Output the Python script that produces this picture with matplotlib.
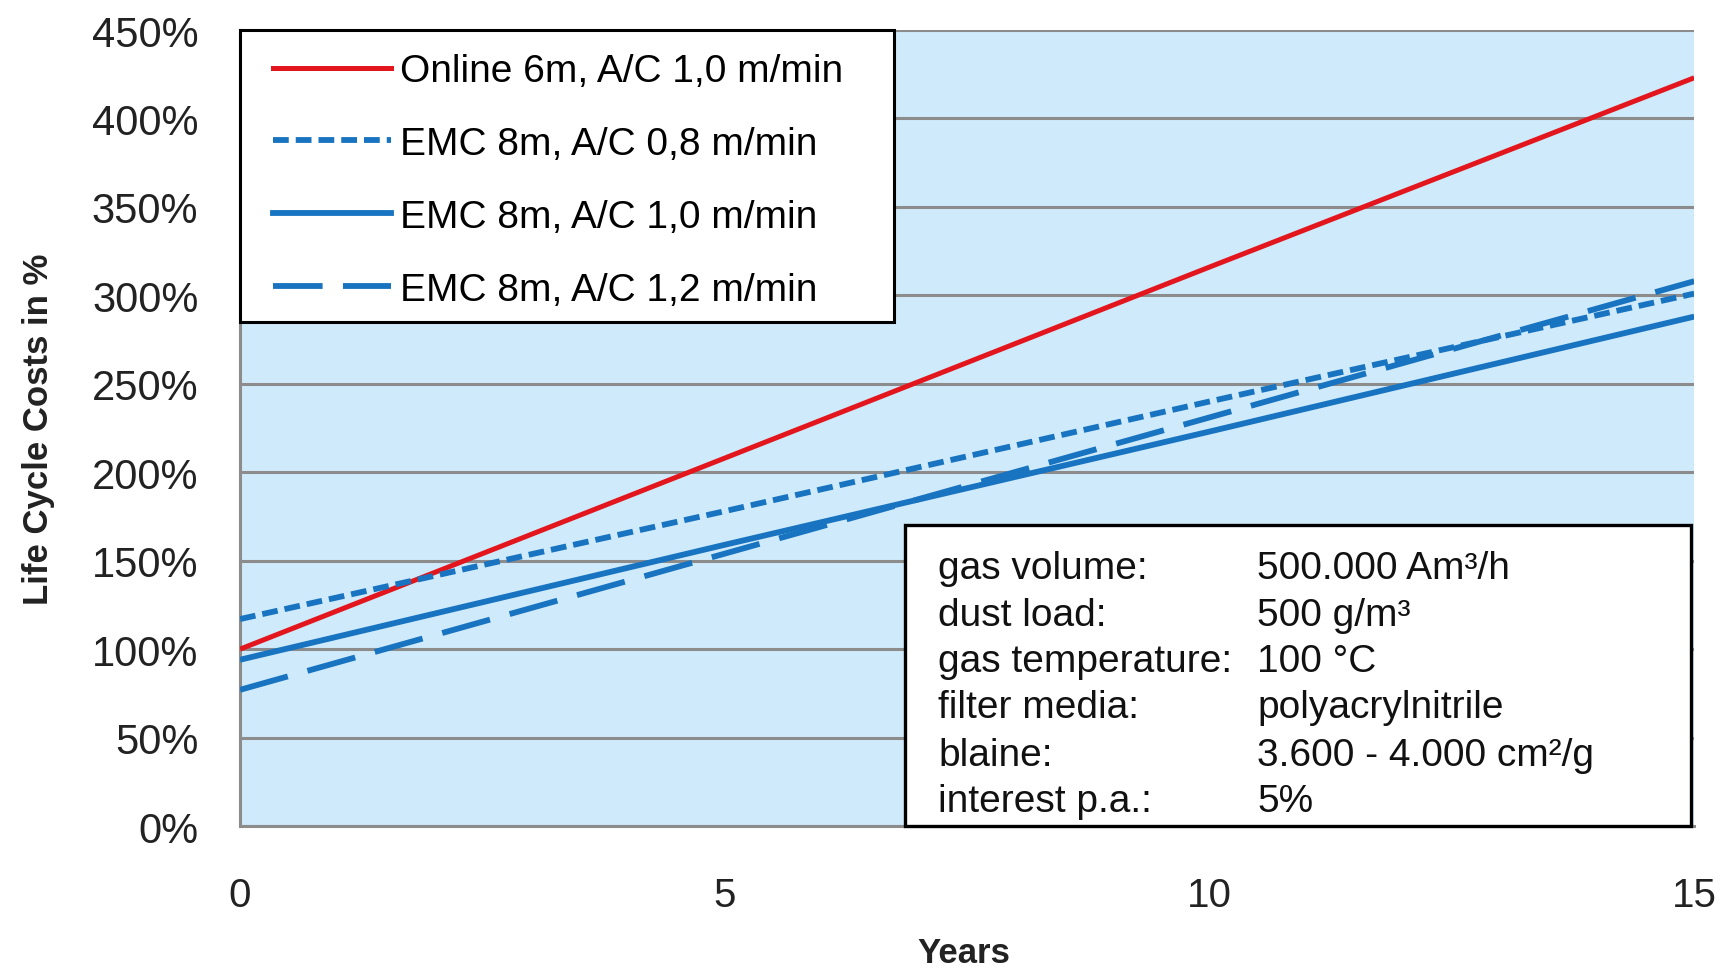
import numpy as np
import matplotlib
matplotlib.use("Agg")
import matplotlib.pyplot as plt
from matplotlib.patches import Rectangle
from matplotlib.lines import Line2D

plt.rcParams['font.family'] = ['Liberation Sans', 'DejaVu Sans']

## Life cycle cost development (% of reference investment)
years = [0, 5, 10, 15]
online_6m_a10 = [100, 208, 316, 423]
emc_8m_a08 = [117, 178, 240, 301]
emc_8m_a10 = [94, 159, 223, 288]
emc_8m_a12 = [77, 154, 231, 308]

labels = ["Online 6m, A/C 1,0 m/min",
          "EMC 8m, A/C 0,8 m/min",
          "EMC 8m, A/C 1,0 m/min",
          "EMC 8m, A/C 1,2 m/min"]

y_ticks = [0, 50, 100, 150, 200, 250, 300, 350, 400, 450]
x_ticks = [0, 5, 10, 15]

info_keys = ["gas volume:", "dust load:", "gas temperature:",
             "filter media:", "blaine:", "interest p.a.:"]
info_vals = ["500.000 Am³/h", "500 g/m³", "100 °C",
             "polyacrylnitrile", "3.600 - 4.000 cm²/g", "5%"]

red = "#e3161e"
blue = "#1874c0"
lw_red = 3.6
lw_blue = 4.2
short_dash = (2.7, 1.2)
long_dash = (8.5, 3.5)

fig = plt.figure(figsize=(17.27, 9.70), dpi=100)
ax = fig.add_axes([0.139, 0.1474, 0.842, 0.8206])
ax.set_facecolor("#cfeafa")

## Lines
ax.plot(years, online_6m_a10, color=red, lw=lw_red, solid_capstyle="butt", zorder=3)
ax.plot(years, emc_8m_a08, color=blue, lw=lw_blue, dashes=short_dash, zorder=3)
ax.plot(years, emc_8m_a10, color=blue, lw=lw_blue, solid_capstyle="butt", zorder=3)
ax.plot(years, emc_8m_a12, color=blue, lw=lw_blue, dashes=long_dash, zorder=3)

## Axes and grid
ax.set_xlim(0, 15)
ax.set_ylim(0, 450)
ax.set_yticks(y_ticks)
ax.set_yticklabels([f"{v}%" for v in y_ticks])
ax.set_xticks(x_ticks)
ax.yaxis.grid(True, color="#8c8c8c", lw=2.2, zorder=1)
ax.set_axisbelow(True)
for s in ["top", "right"]:
    ax.spines[s].set_visible(False)
for s in ["left", "bottom"]:
    ax.spines[s].set_color("#8c8c8c")
    ax.spines[s].set_linewidth(2.2)
ax.tick_params(axis="both", length=0, colors="#222222")
ax.tick_params(axis="y", labelsize=30, pad=30)
ax.tick_params(axis="x", labelsize=29, pad=36)

fig.text(0.558, 0.017, "Years", fontsize=25, fontweight="bold",
         ha="center", va="center", color="#222222")
fig.text(0.0223, 0.557, "Life Cycle Costs in %", fontsize=25, fontweight="bold",
         rotation=90, ha="center", va="center", color="#222222")

## Legend box
ax.add_patch(Rectangle((0, 0.633), 0.45, 0.367, transform=ax.transAxes,
                       facecolor="white", edgecolor="black", lw=2.2, zorder=5,
                       clip_on=False))
handles = [Line2D([], [], color=red, lw=lw_red),
           Line2D([], [], color=blue, lw=lw_blue, dashes=short_dash),
           Line2D([], [], color=blue, lw=lw_blue),
           Line2D([], [], color=blue, lw=lw_blue, dashes=long_dash)]
leg = ax.legend(handles, labels, loc="upper left", bbox_to_anchor=(0.0227, 0.971),
                frameon=False, fontsize=28, borderpad=0, borderaxespad=0,
                handlelength=3.03, handletextpad=0.23, labelspacing=0.95)
leg.set_zorder(6)

## Parameter box
ax.add_patch(Rectangle((0.4574, 0), 0.5406, 0.378, transform=ax.transAxes,
                       facecolor="white", edgecolor="black", lw=2.4, zorder=5,
                       clip_on=False))
row_y = [0.324, 0.265, 0.207, 0.1495, 0.089, 0.031]
for yy, k, v in zip(row_y, info_keys, info_vals):
    ax.text(0.480, yy, k, transform=ax.transAxes, fontsize=28,
            ha="left", va="center", zorder=6, color="#111111")
    ax.text(0.6995, yy, v, transform=ax.transAxes, fontsize=28,
            ha="left", va="center", zorder=6, color="#111111")

fig.savefig("out.png", dpi=100)
